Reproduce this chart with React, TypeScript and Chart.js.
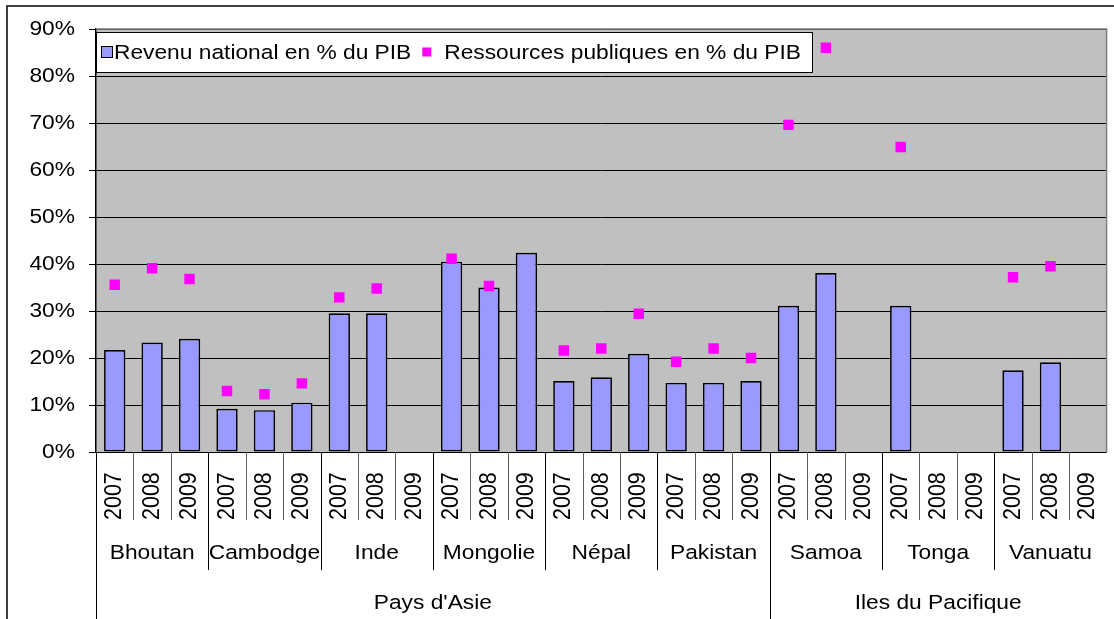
import React, { useEffect, useRef } from 'react';
import { Chart, registerables } from 'chart.js';

Chart.register(...registerables);

const countries = ['Bhoutan', 'Cambodge', 'Inde', 'Mongolie', 'Népal', 'Pakistan', 'Samoa', 'Tonga', 'Vanuatu'];
const years = ['2007', '2008', '2009'];
const regions = ["Pays d'Asie", 'Iles du Pacifique'];
const regionCountryCounts = [6, 3];

const seriesNames = ['Revenu national en % du PIB', 'Ressources publiques en % du PIB'];

// per country: 2007, 2008, 2009
const revenuNational: (number | null)[] = [
  21.7, 23.3, 24.1,
  9.2, 8.9, 10.5,
  29.5, 29.5, null,
  40.5, 35.0, 42.4,
  15.1, 15.9, 20.9,
  14.7, 14.7, 15.1,
  31.1, 38.1, null,
  31.1, null, null,
  17.4, 19.1, null,
];

const ressourcesPubliques: (number | null)[] = [
  35.6, 39.1, 36.8,
  13.0, 12.3, 14.6,
  32.9, 34.8, null,
  41.1, 35.3, null,
  21.6, 22.0, 29.4,
  19.2, 22.0, 20.0,
  69.6, 86.0, null,
  64.9, null, null,
  37.2, 39.5, null,
];

const yMin = 0;
const yMax = 90;
const yStep = 10;

const FONT = '"Liberation Sans", Arial, Helvetica, sans-serif';
const FS = 20.5;
const SX = 1.11;

const labels: string[] = [];
countries.forEach((c) => years.forEach((y) => labels.push(c + ' ' + y)));

function txt(ctx: CanvasRenderingContext2D, s: string, x: number, y: number, align: CanvasTextAlign) {
  ctx.save();
  ctx.translate(x, y);
  ctx.scale(SX, 1);
  ctx.textAlign = align;
  ctx.textBaseline = 'middle';
  ctx.fillText(s, 0, 0);
  ctx.restore();
}

const framePlugin = {
  id: 'framePlugin',
  beforeDraw(chart: any) {
    const ctx = chart.ctx;
    const a = chart.chartArea;
    ctx.save();
    ctx.fillStyle = '#ffffff';
    ctx.fillRect(0, 0, chart.width, chart.height);
    ctx.strokeStyle = '#000';
    ctx.lineWidth = 1.5;
    ctx.strokeRect(7, 6, chart.width + 50, chart.height + 50);
    ctx.fillStyle = '#C0C0C0';
    ctx.fillRect(a.left, a.top, a.right - a.left, a.bottom - a.top);
    ctx.restore();
  },
  beforeDatasetsDraw(chart: any) {
    const ctx = chart.ctx;
    const a = chart.chartArea;
    ctx.save();
    ctx.font = FS + 'px ' + FONT;
    // legend
    const lx = a.left;
    const ly = 32;
    const lh = 40;
    const t1w = ctx.measureText(seriesNames[0]).width * SX;
    const t2w = ctx.measureText(seriesNames[1]).width * SX;
    const sw1x = lx + 5;
    const t1x = sw1x + 13;
    const sw2x = t1x + t1w + 11;
    const t2x = sw2x + 22;
    const lw = t2x + t2w + 11 - lx;
    ctx.fillStyle = '#fff';
    ctx.fillRect(lx, ly, lw, lh);
    ctx.strokeStyle = '#000';
    ctx.lineWidth = 1;
    ctx.strokeRect(lx + 0.5, ly + 0.5, lw, lh);
    const cy = ly + lh / 2;
    ctx.fillStyle = '#9999FF';
    ctx.fillRect(sw1x + 0.5, cy - 5.5, 11, 11);
    ctx.strokeStyle = '#000';
    ctx.strokeRect(sw1x + 0.5, cy - 5.5, 11, 11);
    ctx.fillStyle = '#FF00FF';
    ctx.fillRect(sw2x, cy - 4.5, 9, 9);
    ctx.fillStyle = '#000';
    txt(ctx, seriesNames[0], t1x, cy + 1, 'left');
    txt(ctx, seriesNames[1], t2x, cy + 1, 'left');
    ctx.restore();
  },
  afterDatasetsDraw(chart: any) {
    const ctx = chart.ctx;
    const a = chart.chartArea;
    ctx.save();
    ctx.strokeStyle = '#808080';
    ctx.lineWidth = 1.5;
    ctx.beginPath();
    ctx.moveTo(a.left, a.top);
    ctx.lineTo(a.right, a.top);
    ctx.lineTo(a.right, a.bottom);
    ctx.stroke();
    ctx.restore();
  },
  afterDraw(chart: any) {
    const ctx = chart.ctx;
    const a = chart.chartArea;
    const ys = chart.scales.y;
    const n = labels.length;
    const w = (a.right - a.left) / n;
    ctx.save();
    // separators
    for (let i = 0; i < n; i++) {
      const x = Math.round(a.left + i * w) + 0.5;
      ctx.beginPath();
      if (i % 3 === 0) {
        const ci = i / 3;
        let isRegion = ci === 0;
        let acc = 0;
        regionCountryCounts.forEach((k) => { acc += k; if (acc === ci) isRegion = true; });
        ctx.strokeStyle = '#000';
        ctx.lineWidth = 1;
        ctx.moveTo(x, a.bottom);
        ctx.lineTo(x, isRegion ? chart.height : 570);
      } else {
        ctx.strokeStyle = '#606060';
        ctx.lineWidth = 1;
        ctx.moveTo(x, a.bottom);
        ctx.lineTo(x, 520);
      }
      ctx.stroke();
    }
    ctx.fillStyle = '#000';
    ctx.font = FS + 'px ' + FONT;

    // y tick labels
    for (let v = yMin; v <= yMax; v += yStep) {
      txt(ctx, v + '%', 75, ys.getPixelForValue(v), 'right');
    }

    // years rotated
    ctx.font = '21.5px ' + FONT;
    for (let i = 0; i < n; i++) {
      const cx = a.left + (i + 0.5) * w;
      ctx.save();
      ctx.translate(cx, 520);
      ctx.rotate(-Math.PI / 2);
      ctx.scale(1, SX);
      ctx.textAlign = 'left';
      ctx.textBaseline = 'middle';
      ctx.fillText(years[i % 3], 0, 0);
      ctx.restore();
    }
    ctx.font = FS + 'px ' + FONT;
    // countries
    countries.forEach((c, ci) => {
      const cx = a.left + (ci * 3 + 1.5) * w;
      txt(ctx, c, cx, 553, 'center');
    });
    // regions
    let start = 0;
    regions.forEach((r, ri) => {
      const cnt = regionCountryCounts[ri] * 3;
      const cx = a.left + (start + cnt / 2) * w;
      txt(ctx, r, cx, 603, 'center');
      start += cnt;
    });
    ctx.restore();
  },
};

export default function App() {
  const ref = useRef<HTMLCanvasElement | null>(null);
  useEffect(() => {
    document.body.style.margin = '0';
    const canvas = ref.current;
    if (!canvas) return;
    const chart = new Chart(canvas, {
      type: 'bar',
      data: {
        labels,
        datasets: [
          {
            type: 'bar',
            label: seriesNames[0],
            data: revenuNational as any,
            backgroundColor: '#9999FF',
            borderColor: '#000000',
            borderWidth: 1.7,
            borderSkipped: false,
            barPercentage: 0.57,
            categoryPercentage: 1,
            order: 2,
          } as any,
          {
            type: 'line',
            label: seriesNames[1],
            data: ressourcesPubliques as any,
            showLine: false,
            pointStyle: 'rect',
            pointRadius: 7.4,
            pointHoverRadius: 7.4,
            pointBackgroundColor: '#FF00FF',
            pointBorderColor: '#FF00FF',
            pointBorderWidth: 0,
            order: 1,
          } as any,
        ],
      },
      options: {
        responsive: false,
        animation: false,
        devicePixelRatio: 1,
        layout: { padding: { top: 29, right: 7, bottom: 0, left: 0 } },
        plugins: {
          legend: { display: false },
          tooltip: { enabled: false },
          title: { display: false },
        },
        scales: {
          x: {
            grid: { display: false },
            ticks: { display: false },
            border: { display: false },
            afterFit: (s: any) => { s.height = 167; },
          },
          y: {
            min: yMin,
            max: yMax,
            ticks: {
              stepSize: yStep,
              color: 'rgba(0,0,0,0)',
              padding: 13,
              font: { family: FONT, size: FS },
              callback: (v: any) => v + '%',
            },
            grid: { color: '#000', lineWidth: 1, tickLength: 7, drawTicks: true },
            border: { display: true, color: '#000', width: 1.5 },
            afterFit: (s: any) => { s.width = 96; },
          },
        },
      } as any,
      plugins: [framePlugin],
    });
    return () => chart.destroy();
  }, []);
  return (
    <div style={{ width: 1114, height: 619 }}>
      <canvas ref={ref} width={1114} height={619} style={{ display: 'block' }} />
    </div>
  );
}
